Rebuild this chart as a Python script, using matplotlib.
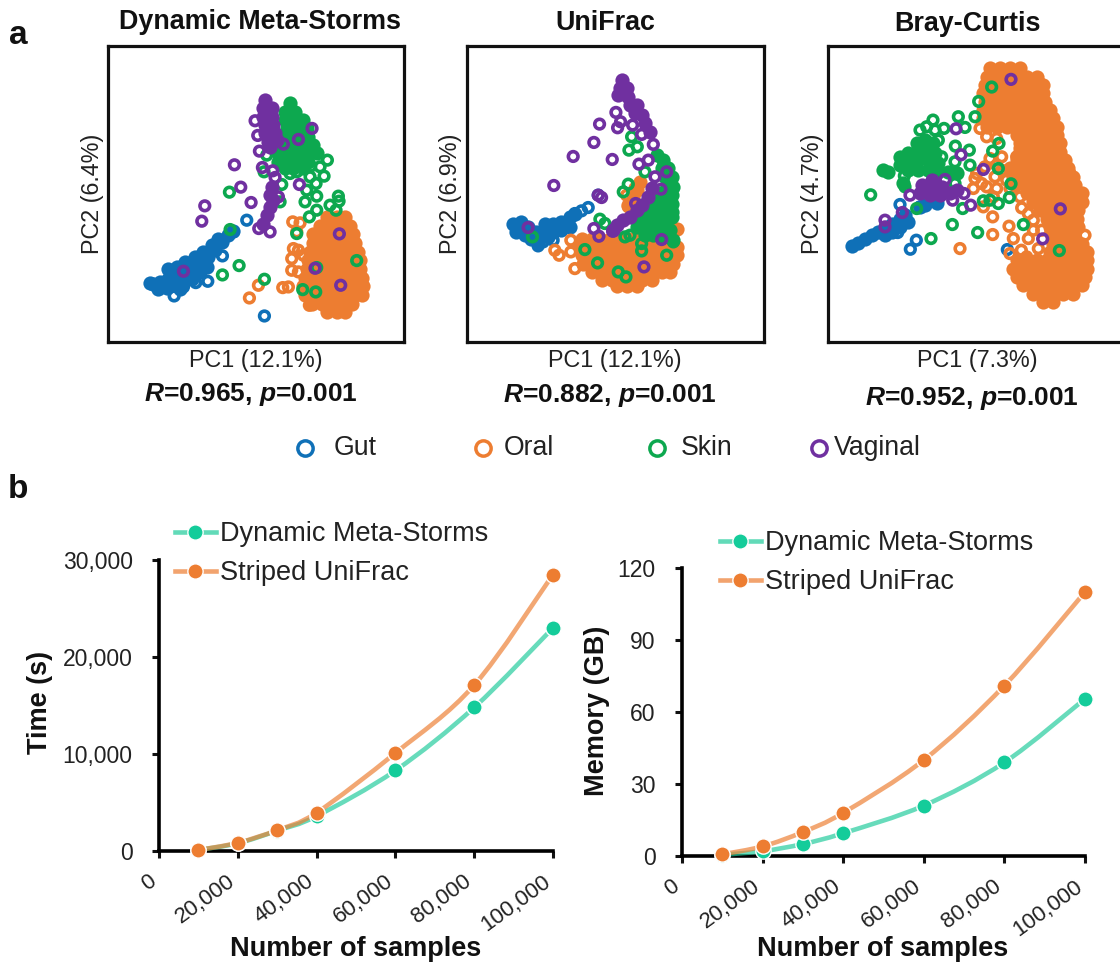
#!/usr/bin/env python3
"""Ordination panels (a) and scaling curves (b) for the metagenome distance comparison."""

import matplotlib

matplotlib.use("Agg")
import matplotlib.pyplot as plt
from matplotlib.colors import to_rgba
from matplotlib.lines import Line2D
from matplotlib.patches import PathPatch
from matplotlib.path import Path
from matplotlib.transforms import ScaledTranslation

W, H = 1120, 963

GUT = "#0F70B7"
ORAL = "#ED7D31"
SKIN = "#0DA84F"
VAGINAL = "#7030A0"
TEAL_LINE = "#1FCB9B"
TEAL_DOT = "#14CC9A"
TEXT = "#222222"

# *_CORE = the saturated part of a cluster, *_RING = points that still show as rings
P1_GUT_CORE = [(150, 727), (160, 730), (180, 725), (205, 715), (230, 705), (255, 695), (280, 680), (305, 665),
               (325, 650), (345, 630), (365, 605), (385, 585), (400, 572), (175, 745), (200, 742), (225, 735),
               (250, 725), (275, 715), (300, 695), (320, 680), (205, 685), (230, 680), (255, 665), (285, 650),
               (310, 635), (335, 615), (355, 595), (240, 745)]
P1_GUT_RING = [(222, 767), (287, 727), (323, 723), (367, 647), (315, 680), (440, 540), (493, 827), (400, 575),
               (250, 740)]
P1_ORAL_ROWS = {530: [680, 710, 735], 556: [660, 690, 720, 750], 582: [640, 670, 700, 730, 760],
                608: [640, 670, 700, 730, 765], 634: [630, 660, 690, 720, 750, 775],
                660: [625, 655, 685, 715, 745, 780], 686: [620, 650, 680, 710, 740, 780],
                712: [615, 645, 675, 705, 735, 765, 785], 738: [610, 640, 670, 700, 730, 760, 790],
                764: [615, 645, 675, 705, 735, 765, 785], 790: [635, 665, 695, 725, 755], 815: [680, 710, 735]}
P1_ORAL_RING = [(578, 545), (600, 548), (590, 575), (595, 630), (575, 655), (575, 690), (595, 695), (628, 795),
                (548, 742), (565, 740), (475, 735), (448, 773), (610, 645), (580, 625)]
P1_SKIN_ROWS = {190: [570], 215: [555, 585], 240: [555, 585, 610], 265: [560, 590, 620], 290: [560, 590, 625],
                315: [550, 580, 610, 640], 340: [535, 565, 595, 625, 650], 365: [535, 565, 595, 625],
                385: [555, 580, 610]}
P1_SKIN_RING = [(682, 360), (660, 380), (632, 378), (672, 408), (630, 410), (648, 430), (620, 450), (650, 468),
                (615, 485), (650, 510), (628, 530), (715, 468), (717, 483), (690, 495), (708, 510), (590, 395),
                (570, 400), (545, 433), (500, 345), (492, 395), (590, 580), (388, 456), (390, 568), (417, 676),
                (367, 704), (493, 717), (608, 748), (647, 755), (770, 661), (650, 682), (540, 485)]
P1_VAGINAL_CORE = [(495, 180), (490, 205), (515, 205), (490, 230), (515, 230), (495, 255), (520, 255), (495, 280),
                   (525, 280), (505, 305), (530, 300), (510, 320), (515, 440), (510, 465), (520, 480), (510, 500),
                   (500, 525), (490, 550)]
P1_VAGINAL_RING = [(465, 242), (473, 286), (478, 333), (550, 312), (595, 298), (636, 265), (403, 374), (487, 382),
                   (518, 392), (525, 412), (422, 441), (598, 433), (453, 487), (314, 497), (305, 543), (476, 565),
                   (510, 575), (535, 470), (250, 693), (718, 581), (645, 684), (722, 735)]

P2_GUT_CORE = [(160, 550), (185, 545), (205, 560), (170, 575), (195, 585), (215, 595), (235, 605), (230, 575),
               (255, 550), (255, 580), (280, 550), (280, 575), (305, 545), (305, 570), (330, 530), (330, 560),
               (345, 520), (265, 590)]
P2_GUT_RING = [(385, 502), (365, 512), (345, 520), (415, 465), (235, 617), (250, 605), (280, 600)]
P2_ORAL_ROWS = {565: [650], 595: [365, 395, 420, 450, 480, 510, 540, 570, 600, 630],
                620: [360, 390, 420, 450, 480, 510, 540, 570, 600, 630, 650],
                645: [365, 395, 425, 455, 485, 515, 545, 575, 605, 635, 650],
                670: [370, 400, 430, 460, 490, 520, 550, 580, 610, 640],
                695: [395, 425, 455, 485, 515, 545, 575, 605, 630], 720: [425, 455, 485, 515, 545, 575],
                738: [470, 500, 530], 425: [540], 445: [525], 470: [520], 495: [505], 450: [530]}
P2_ORAL_RING = [(285, 630), (298, 645), (333, 600), (333, 635), (345, 685), (500, 465), (505, 500), (575, 545)]
P2_SKIN_CORE = [(590, 345), (610, 360), (605, 385), (625, 385), (615, 410), (635, 410), (620, 435), (640, 440),
                (600, 460), (625, 460), (635, 465), (590, 485), (615, 485), (635, 490), (565, 510), (590, 510),
                (615, 510), (635, 515), (545, 535), (570, 535), (595, 535), (620, 535), (635, 530), (530, 560),
                (555, 560), (580, 560), (605, 560), (630, 570), (555, 585), (580, 585), (610, 590), (640, 600)]
P2_SKIN_RING = [(515, 290), (532, 320), (507, 330), (555, 395), (505, 432), (490, 455), (420, 537), (435, 550),
                (218, 590), (375, 628), (413, 668), (475, 695), (498, 710), (620, 645), (545, 610), (545, 632),
                (495, 590), (510, 585), (640, 605)]
P2_VAGINAL_CORE = [(485, 120), (480, 145), (500, 145), (475, 165), (505, 170), (510, 195), (530, 195), (525, 220),
                   (545, 225), (555, 250), (570, 275), (575, 445), (565, 470), (545, 495), (530, 510), (510, 530),
                   (490, 540), (470, 555), (460, 570)]
P2_VAGINAL_RING = [(468, 217), (482, 245), (473, 263), (518, 255), (545, 283), (580, 313), (419, 252), (402, 307),
                   (340, 349), (282, 436), (457, 358), (537, 372), (565, 360), (585, 410), (620, 395), (603, 447),
                   (425, 472), (415, 465), (205, 562), (402, 565), (417, 588), (458, 573), (527, 490), (605, 598),
                   (552, 680)]

P3_GUT_CORE = [(95, 617), (115, 607), (135, 597), (155, 585), (175, 575), (195, 565), (215, 550), (240, 535),
               (255, 525), (195, 585), (215, 575), (240, 560), (265, 545), (300, 500), (315, 495), (350, 487)]
P3_GUT_RING = [(240, 493), (233, 577), (289, 600), (271, 627), (562, 628), (300, 500)]
P3_ORAL_ROWS = {85: [510, 540, 570, 600], 110: [500, 530, 560, 590, 620, 650],
                135: [495, 525, 555, 585, 615, 645, 670], 160: [490, 520, 550, 580, 610, 640, 670],
                185: [495, 525, 555, 585, 615, 645, 675], 210: [490, 520, 550, 580, 610, 640, 670, 690],
                235: [490, 520, 550, 580, 610, 640, 670, 700], 260: [500, 530, 560, 590, 620, 650, 680, 710],
                285: [590, 620, 650, 680, 710], 310: [600, 630, 660, 690, 720], 335: [600, 630, 660, 690, 720],
                360: [590, 620, 650, 680, 710, 735], 385: [570, 600, 630, 660, 690, 720, 745],
                410: [580, 610, 640, 670, 700, 730, 760], 435: [585, 615, 645, 675, 705, 735, 765],
                460: [620, 650, 680, 710, 740, 770, 785], 485: [640, 670, 700, 730, 760, 785],
                510: [660, 690, 720, 750, 775], 535: [680, 710, 740, 770], 560: [690, 720, 750, 775],
                585: [700, 730, 760], 610: [700, 730, 760, 785], 635: [690, 720, 750, 780, 800],
                660: [590, 620, 650, 680, 710, 740, 770, 800], 685: [580, 610, 640, 670, 700, 730, 760, 790, 800],
                710: [590, 620, 650, 680, 710, 740, 770, 795], 735: [610, 640, 670, 700, 730, 760, 785],
                760: [640, 670, 700, 730, 760], 785: [670, 700]}
P3_ORAL_RING = [(480, 265), (500, 290), (530, 295), (600, 325), (590, 350), (510, 355), (495, 380), (465, 415),
                (460, 445), (500, 440), (525, 410), (560, 420), (530, 445), (490, 500), (518, 530), (605, 503),
                (567, 558), (518, 583), (580, 595), (625, 595), (604, 630), (655, 625), (420, 625), (660, 130),
                (640, 540), (570, 640), (750, 400), (795, 585), (620, 650), (470, 400), (485, 430), (520, 470),
                (545, 390), (570, 445), (600, 470), (625, 520), (640, 570), (545, 350), (530, 375), (665, 570)]
P3_SKIN_CORE = [(190, 390), (205, 395), (240, 350), (265, 340), (290, 310), (315, 300), (340, 310), (240, 375),
                (265, 365), (290, 335), (320, 330), (345, 340), (265, 390), (295, 360), (325, 360), (355, 370),
                (295, 390), (325, 390), (355, 395), (385, 395), (410, 400), (250, 430)]
P3_SKIN_RING = [(339, 240), (300, 270), (320, 260), (372, 265), (415, 230), (435, 262), (465, 230), (476, 184),
                (515, 141), (345, 270), (355, 300), (406, 318), (448, 330), (405, 365), (450, 375), (365, 350),
                (253, 407), (255, 440), (152, 464), (290, 505), (428, 505), (397, 553), (473, 577), (333, 595),
                (537, 310), (518, 333), (535, 385), (573, 431), (568, 472), (535, 490), (510, 480), (490, 482),
                (610, 553), (718, 631), (405, 430)]
P3_VAGINAL_CORE = [(335, 420), (305, 435), (335, 445), (365, 440), (300, 460), (330, 465), (360, 465), (390, 460),
                   (410, 450)]
P3_VAGINAL_RING = [(408, 266), (423, 344), (490, 388), (573, 118), (375, 418), (432, 460), (452, 495), (398, 480),
                   (270, 465), (247, 517), (195, 540), (195, 560), (668, 596), (721, 506)]

SAMPLES = [10000, 20000, 30000, 40000, 60000, 80000, 100000]
TIME_DMS = [100, 800, 2100, 3600, 8300, 14800, 23000]
TIME_STRIPED = [100, 850, 2150, 3950, 10100, 17100, 28500]
MEM_DMS = [0.5, 2, 5, 9.5, 21, 39, 65.5]
MEM_STRIPED = [0.7, 4, 10, 18, 40, 71, 110]

X_TICKS = [0, 20000, 40000, 60000, 80000, 100000]
TIME_TICKS = [0, 10000, 20000, 30000]
MEM_TICKS = [0, 30, 60, 90, 120]

PANEL_TITLES = ["Dynamic Meta-Storms", "UniFrac", "Bray-Curtis"]
PC1_LABELS = ["PC1 (12.1%)", "PC1 (12.1%)", "PC1 (7.3%)"]
PC2_LABELS = ["PC2 (6.4%)", "PC2 (6.9%)", "PC2 (4.7%)"]
R_VALUES = ["0.965", "0.882", "0.952"]
P_VALUES = ["0.001", "0.001", "0.001"]
GROUPS = ["Gut", "Oral", "Skin", "Vaginal"]


def unrow(rows):
    return [(x, y) for y, xs in rows.items() for x in xs]


def axes_px(fig, left, top, right, bottom):
    return fig.add_axes([left / W, 1 - bottom / H, (right - left) / W, (bottom - top) / H])


def fig_text(fig, x, y, s, **kw):
    kw.setdefault("ha", "center")
    kw.setdefault("va", "center")
    kw.setdefault("color", TEXT)
    return fig.text(x / W, 1 - y / H, s, **kw)


def smooth_path(xs, ys):
    # same kind of smoothing the spreadsheet line charts use
    pts = list(zip(xs, ys))
    verts = [pts[0]]
    codes = [Path.MOVETO]
    for i in range(len(pts) - 1):
        p0 = pts[max(i - 1, 0)]
        p1 = pts[i]
        p2 = pts[i + 1]
        p3 = pts[min(i + 2, len(pts) - 1)]
        c1 = (p1[0] + (p2[0] - p0[0]) / 6, p1[1] + (p2[1] - p0[1]) / 6)
        c2 = (p2[0] - (p3[0] - p1[0]) / 6, p2[1] - (p3[1] - p1[1]) / 6)
        verts += [c1, c2, p2]
        codes += [Path.CURVE4, Path.CURVE4, Path.CURVE4]
    return Path(verts, codes)


def draw_scatter(ax, layers, xlim, ylim):
    for color, core, ring in layers:
        ax.scatter(*zip(*core), s=105, color=color, linewidths=0, zorder=3)
        ax.scatter(*zip(*ring), s=48, facecolors="none", edgecolors=color, linewidths=2.6, zorder=3)
    ax.set_xlim(*xlim)
    ax.set_ylim(*ylim)
    ax.set_xticks([])
    ax.set_yticks([])
    for spine in ax.spines.values():
        spine.set_linewidth(2.3)
        spine.set_color("#111111")


def draw_curves(ax, y_dms, y_striped, yticks, ylabels, ymax, legend_xy):
    for ys, line, dot in ((y_dms, TEAL_LINE, TEAL_DOT), (y_striped, ORAL, ORAL)):
        ax.add_patch(PathPatch(smooth_path(SAMPLES, ys), fill=False, edgecolor=line, linewidth=3.3, alpha=0.68,
                               capstyle="round", zorder=3, clip_on=False))
        ax.plot(SAMPLES, ys, ls="none", marker="o", ms=11, mfc=dot, mec="white", mew=1.0, zorder=4, clip_on=False)
    ax.set_xlim(0, 100000)
    ax.set_ylim(0, ymax)
    ax.set_xticks(X_TICKS, [f"{v:,}" for v in X_TICKS], rotation=36, ha="right", va="center", rotation_mode="anchor")
    ax.set_yticks(yticks, ylabels)
    ax.tick_params(axis="both", width=2.2, length=5, labelcolor=TEXT, color="#111111")
    ax.tick_params(axis="y", pad=14, labelsize=16.5)
    ax.tick_params(axis="x", pad=15.5, labelsize=16)
    nudge = ScaledTranslation(-5 / 100, 0, ax.figure.dpi_scale_trans)
    for label in ax.get_xticklabels():
        label.set_transform(label.get_transform() + nudge)
    ax.spines["top"].set_visible(False)
    ax.spines["right"].set_visible(False)
    ax.spines["left"].set_linewidth(2.6)
    ax.spines["bottom"].set_linewidth(2.6)
    handles = [
        Line2D([], [], color=to_rgba(TEAL_LINE, 0.7), lw=3.3, marker="o", ms=11, mfc=TEAL_DOT, mec="white", mew=1.0,
               label="Dynamic Meta-Storms"),
        Line2D([], [], color=to_rgba(ORAL, 0.7), lw=3.3, marker="o", ms=11, mfc=ORAL, mec="white", mew=1.0,
               label="Striped UniFrac"),
    ]
    ax.legend(handles=handles, loc="upper left", bbox_to_anchor=(legend_xy[0] / W, 1 - legend_xy[1] / H),
              bbox_transform=ax.figure.transFigure, frameon=False, fontsize=19.5, handlelength=1.5,
              handletextpad=0.15, borderpad=0, borderaxespad=0, labelspacing=0.48, labelcolor=TEXT)


def main():
    plt.rcParams.update(
        {
            "font.family": ["Liberation Sans", "DejaVu Sans"],
            "mathtext.fontset": "custom",
            "mathtext.bf": "Liberation Sans:bold",
            "mathtext.bfit": "Liberation Sans:italic:bold",
            "mathtext.default": "regular",
        }
    )
    fig = plt.figure(figsize=(W / 100, H / 100), dpi=100, facecolor="white")

    # panel a
    frames = [(107.5, 46, 404, 342), (467, 46, 763.5, 342), (828, 46, 1123, 342)]
    xlims = [(22, 912), (22, 910), (24, 909)]
    layers = [
        [(GUT, P1_GUT_CORE, P1_GUT_RING), (ORAL, unrow(P1_ORAL_ROWS), P1_ORAL_RING),
         (SKIN, unrow(P1_SKIN_ROWS), P1_SKIN_RING), (VAGINAL, P1_VAGINAL_CORE, P1_VAGINAL_RING)],
        [(GUT, P2_GUT_CORE, P2_GUT_RING), (ORAL, unrow(P2_ORAL_ROWS), P2_ORAL_RING),
         (SKIN, P2_SKIN_CORE, P2_SKIN_RING), (VAGINAL, P2_VAGINAL_CORE, P2_VAGINAL_RING)],
        [(GUT, P3_GUT_CORE, P3_GUT_RING), (ORAL, unrow(P3_ORAL_ROWS), P3_ORAL_RING),
         (SKIN, P3_SKIN_CORE, P3_SKIN_RING), (VAGINAL, P3_VAGINAL_CORE, P3_VAGINAL_RING)],
    ]
    title_xy = [(260, 22), (605, 23), (967, 24)]
    pc1_xy = [(256, 361), (615, 361), (977, 360)]
    pc2_xy = [(93, 194), (451, 194), (813, 194)]
    stat_xy = [(251, 394), (610, 395), (972, 398)]
    for i, frame in enumerate(frames):
        ax = axes_px(fig, *frame)
        draw_scatter(ax, layers[i], xlims[i], (905, 18))
        fig_text(fig, *title_xy[i], PANEL_TITLES[i], fontsize=19.4, fontweight="bold", color="#111111")
        fig_text(fig, *pc1_xy[i], PC1_LABELS[i], fontsize=16.8)
        fig_text(fig, *pc2_xy[i], PC2_LABELS[i], fontsize=16.8, rotation=90)
        stat = rf"$\mathbfit{{R}}$=$\mathbf{{{R_VALUES[i]}}}$, $\mathbfit{{p}}$=$\mathbf{{{P_VALUES[i]}}}$"
        fig_text(fig, *stat_xy[i], stat, fontsize=19, fontweight="bold", color="#111111")

    fig_text(fig, 18, 36, "a", fontsize=24, fontweight="bold", color="#111111")
    fig_text(fig, 18, 489, "b", fontsize=24, fontweight="bold", color="#111111")

    # group key under panel a
    key_marks = [305, 483, 657, 819]
    key_text = [334, 504, 681, 834]
    for name, color, mx, tx in zip(GROUPS, (GUT, ORAL, SKIN, VAGINAL), key_marks, key_text):
        fig.add_artist(Line2D([mx / W], [1 - 448 / H], ls="none", marker="o", ms=11, mfc="none", mec=color, mew=2.5))
        fig_text(fig, tx, 448, name, ha="left", fontsize=19.2)

    # panel b
    ax_time = axes_px(fig, 159, 560, 553, 851)
    draw_curves(ax_time, TIME_DMS, TIME_STRIPED, TIME_TICKS, [f"{v:,}" for v in TIME_TICKS], 30000, (175, 521))
    ax_mem = axes_px(fig, 682, 568, 1085, 856)
    draw_curves(ax_mem, MEM_DMS, MEM_STRIPED, MEM_TICKS, [str(v) for v in MEM_TICKS], 120, (720, 530))

    fig_text(fig, 40, 702, "Time (s)", fontsize=19.5, fontweight="bold", rotation=90, color="#111111")
    fig_text(fig, 597, 711, "Memory (GB)", fontsize=19.5, fontweight="bold", rotation=90, color="#111111")
    fig_text(fig, 356, 949, "Number of samples", fontsize=19.5, fontweight="bold", color="#111111")
    fig_text(fig, 883, 949, "Number of samples", fontsize=19.5, fontweight="bold", color="#111111")

    fig.savefig("out.png", dpi=100, facecolor="white")
    plt.close(fig)


if __name__ == "__main__":
    main()
